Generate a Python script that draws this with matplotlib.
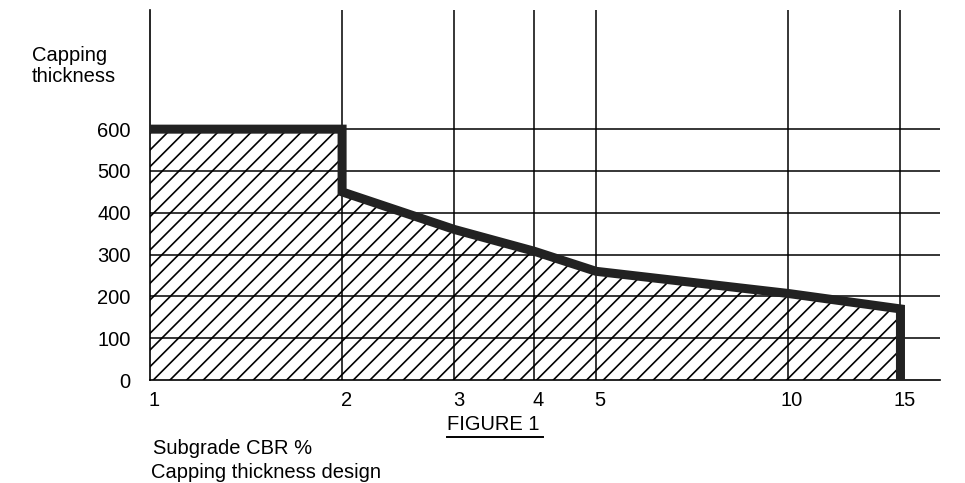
import matplotlib
matplotlib.use("Agg")
import matplotlib.pyplot as plt
import matplotlib.transforms as mtransforms
from matplotlib.lines import Line2D

plt.rcParams['font.family'] = ['Liberation Sans', 'DejaVu Sans']
plt.rcParams['hatch.linewidth'] = 1.2

# Data
cbr = [1, 2, 2, 3, 4, 5, 10, 15, 15]
thickness = [600, 600, 450, 360, 308, 260, 207, 170, 0]
x_ticks = [1, 2, 3, 4, 5, 10, 15]
x_labels = ["1", "2", "3", "4", "5", "10", "15"]
y_ticks = [0, 100, 200, 300, 400, 500, 600]
y_labels = ["0", "100", "200", "300", "400", "500", "600"]

FS = 14.5

fig = plt.figure(figsize=(9.65, 4.83), dpi=100)
ax = fig.add_axes([150/965, 103/483, 790/965, 370/483])
ax.set_xscale('log')
ax.set_xlim(1, 17.3)
ax.set_ylim(0, 885)

# grid lines
for y in y_ticks[1:]:
    ax.axhline(y, color='black', lw=1.1, zorder=1)
for x in x_ticks[1:]:
    ax.axvline(x, color='black', lw=1.1, zorder=1)

# hatched area
ax.fill_between(cbr, thickness, 0, facecolor='none', edgecolor='black',
                hatch='//', linewidth=0, zorder=2)
ax.plot(cbr, thickness, color='#222222', lw=6.5, solid_joinstyle='miter',
        solid_capstyle='butt', zorder=3)

for s in ['top', 'right']:
    ax.spines[s].set_visible(False)
ax.spines['left'].set_linewidth(1.2)
ax.spines['bottom'].set_linewidth(1.2)

ax.minorticks_off()
ax.set_xticks(x_ticks)
ax.set_xticklabels(x_labels, fontsize=FS)
ax.set_yticks(y_ticks)
ax.set_yticklabels(y_labels, fontsize=FS)
ax.tick_params(axis='both', length=0)
ax.tick_params(axis='x', pad=8)
ax.tick_params(axis='y', pad=14)
offset = mtransforms.ScaledTranslation(4/100, 0, fig.dpi_scale_trans)
for lab in ax.get_xticklabels():
    lab.set_transform(lab.get_transform() + offset)

fig.text(32/965, 1 - 46/483, "Capping\nthickness", fontsize=FS, va='top',
         ha='left', linespacing=1.1)
fig.text(447/965, 1 - 425/483, "FIGURE 1", fontsize=FS, va='center', ha='left')
fig.add_artist(Line2D([447/965, 543/965], [1 - 437/483, 1 - 437/483],
                      color='black', lw=1.4))
fig.text(153/965, 1 - 449/483, "Subgrade CBR %", fontsize=FS, va='center', ha='left')
fig.text(151/965, 1 - 472/483, "Capping thickness design", fontsize=FS,
         va='center', ha='left')

fig.savefig("out.png", dpi=100)
